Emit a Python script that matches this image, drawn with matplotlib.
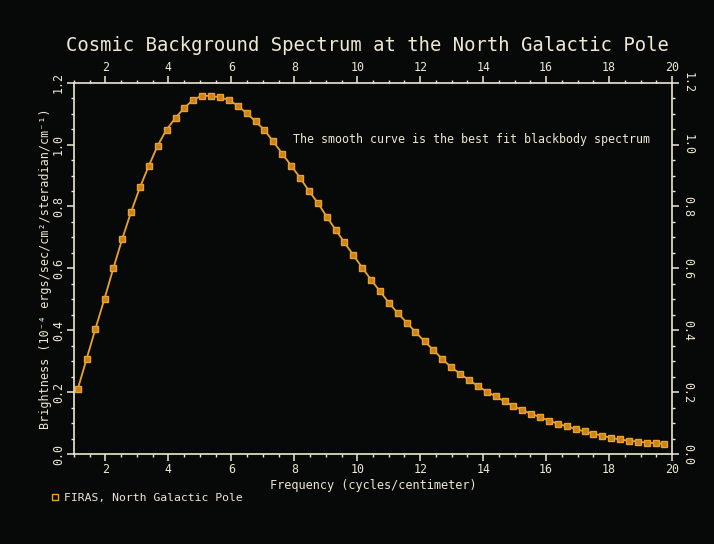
import matplotlib
matplotlib.use("Agg")
import matplotlib.pyplot as plt
from matplotlib.ticker import MultipleLocator
from matplotlib.lines import Line2D

# FIRAS, North Galactic Pole
freq = [1.12, 1.40, 1.68, 1.97, 2.25, 2.53, 2.81, 3.10, 3.38, 3.66,
        3.94, 4.23, 4.51, 4.79, 5.07, 5.36, 5.64, 5.92, 6.20, 6.49,
        6.77, 7.05, 7.33, 7.62, 7.90, 8.18, 8.46, 8.75, 9.03, 9.31,
        9.59, 9.88, 10.16, 10.44, 10.72, 11.01, 11.29, 11.57, 11.85, 12.14,
        12.42, 12.70, 12.98, 13.27, 13.55, 13.83, 14.11, 14.40, 14.68, 14.96,
        15.24, 15.53, 15.81, 16.09, 16.37, 16.66, 16.94, 17.22, 17.50, 17.79,
        18.07, 18.35, 18.63, 18.92, 19.20, 19.48, 19.76]
brightness = [0.210, 0.307, 0.404, 0.502, 0.600, 0.694, 0.781, 0.863, 0.932, 0.997,
              1.048, 1.087, 1.119, 1.145, 1.158, 1.157, 1.153, 1.144, 1.126, 1.101,
              1.075, 1.047, 1.010, 0.970, 0.932, 0.893, 0.851, 0.811, 0.767, 0.725,
              0.684, 0.642, 0.602, 0.563, 0.526, 0.488, 0.455, 0.425, 0.394, 0.364,
              0.336, 0.307, 0.281, 0.259, 0.239, 0.220, 0.202, 0.186, 0.170, 0.155,
              0.142, 0.130, 0.119, 0.108, 0.098, 0.089, 0.081, 0.073, 0.066, 0.059,
              0.052, 0.047, 0.043, 0.040, 0.037, 0.035, 0.033]

BG = "#060908"
FG = "#efe7d2"
ORANGE = "#eca22a"
MONO = "DejaVu Sans Mono"

plt.rcParams["font.family"] = MONO

fig = plt.figure(figsize=(7.14, 5.44), dpi=100, facecolor=BG)
ax = fig.add_axes([0.1036, 0.1654, 0.8376, 0.6826], facecolor=BG)

ax.plot(freq, brightness, color=ORANGE, linewidth=1.3, marker="s", markersize=4.2,
        markerfacecolor="#c8821e", markeredgecolor=ORANGE, markeredgewidth=1.0)

ax.set_xlim(1, 20)
ax.set_ylim(0, 1.2)
ax.xaxis.set_major_locator(MultipleLocator(2))
ax.xaxis.set_minor_locator(MultipleLocator(0.5))
ax.yaxis.set_major_locator(MultipleLocator(0.2))
ax.yaxis.set_minor_locator(MultipleLocator(0.05))
ax.yaxis.set_major_formatter(lambda v, _p: f"{v:.1f}")

for sp in ax.spines.values():
    sp.set_color(FG)
    sp.set_linewidth(1.2)

ax.tick_params(which="both", direction="out", colors=FG, top=True, right=True,
               labeltop=True, labelright=True, labelsize=8.4, pad=1.8)
ax.tick_params(which="major", length=4.8, width=1.1)
ax.tick_params(which="minor", length=2.2, width=1.0)
ax.tick_params(axis="y", labelrotation=90)
for tk in ax.yaxis.get_major_ticks():
    tk.label1.set_verticalalignment("center")
    tk.label2.set_rotation(-90)
    tk.label2.set_verticalalignment("center")

fig.text(0.515, 0.917, "Cosmic Background Spectrum at the North Galactic Pole",
         color=FG, fontsize=13.6, ha="center", va="center")
ax.set_xlabel("Frequency (cycles/centimeter)", color=FG, fontsize=8.6, labelpad=2)
ax.set_ylabel("Brightness (10\u207b\u2074 ergs/sec/cm\u00b2/steradian/cm\u207b\u00b9)",
              color=FG, fontsize=8.5, labelpad=0)

ax.text(7.95, 1.015, "The smooth curve is the best fit blackbody spectrum",
        color=FG, fontsize=8.4, ha="left", va="center")

handle = Line2D([], [], linestyle="none", marker="s", markersize=4,
                markerfacecolor="none", markeredgecolor=ORANGE, markeredgewidth=1.0)
fig.legend([handle], ["FIRAS, North Galactic Pole"], loc="center left",
           bbox_to_anchor=(0.058, 0.084), frameon=False, handlelength=0.6,
           handletextpad=0.5, labelcolor=FG, prop={"family": MONO, "size": 8.2})

fig.savefig("out.png", dpi=100, facecolor=BG)
